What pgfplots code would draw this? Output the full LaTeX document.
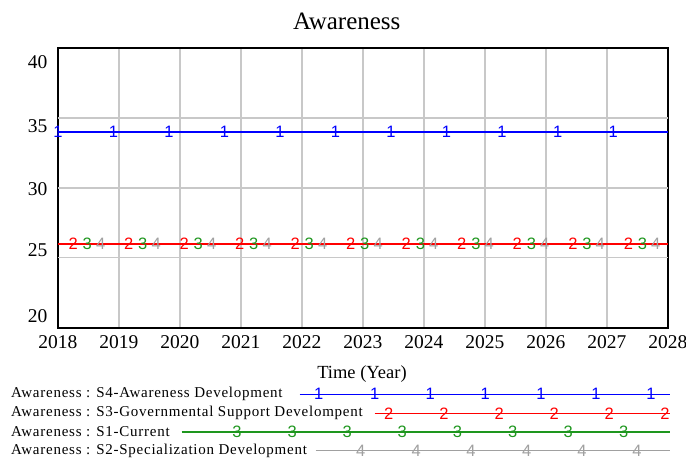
\documentclass[border=0pt]{standalone}
\usepackage{fontspec}
\setmainfont{Liberation Serif}
\newfontfamily\markfont{Liberation Sans}
\newfontfamily\legfont[LetterSpace=5]{Liberation Serif}
\usepackage{pgfplots}
\pgfplotsset{compat=1.18}
\definecolor{vblue}{RGB}{0,0,255}
\definecolor{vred}{RGB}{255,0,0}
\definecolor{vgreen}{RGB}{30,150,30}
\definecolor{vgray}{RGB}{160,160,160}
\definecolor{vgrid}{RGB}{200,200,200}
\pgfplotsset{
  tm/.style 2 args={only marks, mark=text, text mark={#1}, text mark as node=true,
    mark options={solid},
    text mark style={font=\markfont\fontsize{16.5}{16.5}\selectfont, text=#2, inner sep=0pt}},
}
\begin{document}
\begin{tikzpicture}[x=1pt,y=1pt]
\useasboundingbox (0,0) rectangle (686,461);
\begin{axis}[at={(58pt,133.3pt)}, anchor=south west, scale only axis,
  width=610pt, height=279.4pt,
  xmin=2018, xmax=2028, ymin=20, ymax=40,
  xtick={2018,...,2028},
  ytick={20.86,25.52,29.9,34.43,39.02}, yticklabels={20,25,30,35,40},
  extra y ticks={25,30,35}, extra y tick labels={},
  extra y tick style={grid=major},
  xmajorgrids,
  major grid style={vgrid, line width=1.3pt},
  major tick length=0pt,
  axis line style={line width=2.2pt},
  /pgf/number format/assume math mode=true,
  /pgf/number format/1000 sep={},
  ticklabel style={font=\fontsize{19.5}{20}\selectfont},
  xticklabel style={yshift=-4pt},
  yticklabel style={xshift=-7pt},
  clip=true,
]
\addplot[vgray, line width=1.3pt] coordinates {(2018,26)(2028,26)};
\addplot[vgreen, line width=1.3pt] coordinates {(2018,26)(2028,26)};
\addplot[vred, line width=1.3pt] coordinates {(2018,26)(2028,26)};
\addplot[vblue, line width=1.3pt] coordinates {(2018,34)(2028,34)};
\addplot[tm={1}{vblue}] coordinates {(2018,34)(2018.91,34)(2019.82,34)(2020.73,34)(2021.64,34)(2022.55,34)(2023.46,34)(2024.37,34)(2025.28,34)(2026.19,34)(2027.1,34)};
\addplot[tm={2}{vred}] coordinates {(2018.25,26)(2019.16,26)(2020.07,26)(2020.98,26)(2021.89,26)(2022.80,26)(2023.71,26)(2024.62,26)(2025.53,26)(2026.44,26)(2027.35,26)};
\addplot[tm={3}{vgreen}] coordinates {(2018.48,26)(2019.39,26)(2020.30,26)(2021.21,26)(2022.12,26)(2023.03,26)(2023.94,26)(2024.85,26)(2025.76,26)(2026.67,26)(2027.58,26)};
\addplot[tm={4}{vgray}] coordinates {(2018.70,26)(2019.61,26)(2020.52,26)(2021.43,26)(2022.34,26)(2023.25,26)(2024.16,26)(2025.07,26)(2025.98,26)(2026.89,26)(2027.80,26)};
\end{axis}
\begin{axis}[at={(0pt,0pt)}, anchor=south west, scale only axis,
  width=686pt, height=461pt, xmin=0, xmax=686, ymin=0, ymax=461,
  y dir=reverse, hide axis, clip=false]
\node[font=\fontsize{25}{25}\selectfont] at (axis cs:346.7,21.7) {Awareness};
\node[font=\fontsize{18.5}{19}\selectfont] at (axis cs:362,374) {Time (Year)};
\node[anchor=west, inner sep=0pt, font=\legfont\fontsize{15}{15}\selectfont] at (axis cs:11,394.3) {Awareness : S4-Awareness Development};
\node[anchor=west, inner sep=0pt, font=\legfont\fontsize{15}{15}\selectfont] at (axis cs:11,413.3) {Awareness : S3-Governmental Support Develompent};
\node[anchor=west, inner sep=0pt, font=\legfont\fontsize{15}{15}\selectfont] at (axis cs:11,432) {Awareness : S1-Current};
\node[anchor=west, inner sep=0pt, font=\legfont\fontsize{15}{15}\selectfont] at (axis cs:11,450.7) {Awareness : S2-Specialization Development};
\addplot[vblue, line width=1.3pt] coordinates {(299.7,394.3)(670,394.3)};
\addplot[vred, line width=1.3pt] coordinates {(374.7,413.3)(670,413.3)};
\addplot[vgreen, line width=1.3pt] coordinates {(181.7,432)(670,432)};
\addplot[vgray, line width=1.3pt] coordinates {(315.7,450.7)(670,450.7)};
\addplot[tm={1}{vblue}] coordinates {(318.7,394.3)(374.7,394.3)(430.3,394.3)(485.3,394.3)(541,394.3)(596,394.3)(651,394.3)};
\addplot[tm={2}{vred}] coordinates {(388.7,413.3)(444,413.3)(499.3,413.3)(554.3,413.3)(609.3,413.3)(665,413.3)};
\addplot[tm={3}{vgreen}] coordinates {(237,432)(292.3,432)(347.3,432)(402.3,432)(457.5,432)(512.7,432)(568.3,432)(623.7,432)};
\addplot[tm={4}{vgray}] coordinates {(360.7,450.7)(416.3,450.7)(471,450.7)(526.7,450.7)(582,450.7)(637,450.7)};
\end{axis}
\end{tikzpicture}
\end{document}
